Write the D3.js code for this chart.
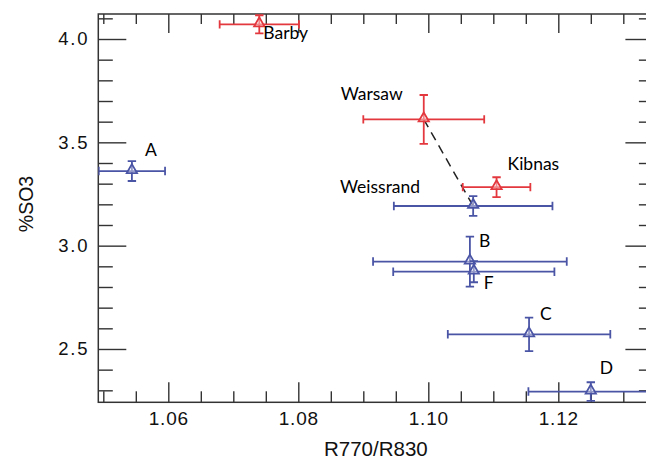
<!DOCTYPE html>
<html>
<head>
<meta charset="utf-8">
<script src="https://cdn.jsdelivr.net/npm/d3@7"></script>
<style>
  html, body { margin: 0; padding: 0; background: #fff; }
  svg { display: block; }
  .tick text { font-family: "Liberation Sans", Arial, sans-serif; fill: #111; }
  .lbl { font-family: Lato, "Open Sans", sans-serif; font-size: 17.5px; fill: #000; }
</style>
</head>
<body>
<svg id="chart" width="646" height="459"></svg>
<script>
// values
const sites   = ["Barby", "Warsaw", "Kibnas", "Weissrand", "A", "B", "F", "C", "D"]
const groups  = ["ref", "ref", "ref", "sample", "sample", "sample", "sample", "sample", "sample"]
const ratio    = [1.0740, 1.0993, 1.1105, 1.1069, 1.0544, 1.1064, 1.1070, 1.1155, 1.1250]
const ratioErr = [0.0061, 0.0093, 0.0052, 0.0122, 0.0051, 0.0149, 0.0124, 0.0125, 0.0096]
const so3      = [4.071, 3.611, 3.283, 3.192, 3.361, 2.923, 2.874, 2.571, 2.294]
const so3Err   = [0.044, 0.118, 0.048, 0.048, 0.048, 0.121, 0.051, 0.081, 0.045]
const links = [["Warsaw", "Weissrand"]]
const xMajor = [1.06, 1.08, 1.10, 1.12]
const yMajor = [2.5, 3.0, 3.5, 4.0]

// label placement (px from point, text anchor)
const labelPos = {
  Barby: [4, 15, "start"], Warsaw: [-21, -19, "end"], Kibnas: [11, -17, "start"],
  Weissrand: [-53, -13, "end"], A: [13, -15, "start"], B: [9, -15, "start"],
  F: [10, 17, "start"], C: [11, -14, "start"], D: [9, -18, "start"]
}

const data = sites.map((s, i) => ({
  site: s, group: groups[i], x: ratio[i], xe: ratioErr[i], y: so3[i], ye: so3Err[i]
}))

const L = 98.3, T = 14, R = 653.4, B = 402.3
const svg = d3.select('#chart')

const x = d3.scaleLinear().domain([1.04923, 1.13463]).range([L, R])
const y = d3.scaleLinear().domain([2.242, 4.121]).range([B, T])
const color = d3.scaleOrdinal().domain(["ref", "sample"]).range(["#e4383f", "#4b55a6"])

const xMinor = d3.range(1.05, 1.1346, 0.005).filter(v => !xMajor.some(m => Math.abs(m - v) < 1e-6))
const yMinor = d3.range(2.3, 4.12, 0.1).filter(v => !yMajor.some(m => Math.abs(m - v) < 1e-6))

const axisStyle = g => {
  g.select('.domain').remove()
  g.selectAll('line').attr('stroke', '#333').attr('stroke-width', 1.4)
}

// bottom
svg.append('g').attr('transform', `translate(0,${B})`)
  .call(d3.axisBottom(x).tickValues(xMajor).tickSize(-20).tickPadding(9).tickFormat(d3.format('.2f')))
  .call(axisStyle)
  .selectAll('text').style('font-size', '19px').style('letter-spacing', '0.8px')
svg.append('g').attr('transform', `translate(0,${B})`)
  .call(d3.axisBottom(x).tickValues(xMinor).tickSize(-11).tickFormat(''))
  .call(axisStyle)
// top
svg.append('g').attr('transform', `translate(0,${T})`)
  .call(d3.axisTop(x).tickValues(xMajor).tickSize(-19).tickFormat(''))
  .call(axisStyle)
svg.append('g').attr('transform', `translate(0,${T})`)
  .call(d3.axisTop(x).tickValues(xMinor).tickSize(-10).tickFormat(''))
  .call(axisStyle)
// left
svg.append('g').attr('transform', `translate(${L},0)`)
  .call(d3.axisLeft(y).tickValues(yMajor).tickSize(-28).tickPadding(9).tickFormat(d3.format('.1f')))
  .call(axisStyle)
  .selectAll('text').style('font-size', '18.5px').style('letter-spacing', '1.8px')
svg.append('g').attr('transform', `translate(${L},0)`)
  .call(d3.axisLeft(y).tickValues(yMinor).tickSize(-14.5).tickFormat(''))
  .call(axisStyle)
// right
svg.append('g').attr('transform', `translate(${R},0)`)
  .call(d3.axisRight(y).tickValues(yMajor).tickSize(-28).tickFormat(''))
  .call(axisStyle)
svg.append('g').attr('transform', `translate(${R},0)`)
  .call(d3.axisRight(y).tickValues(yMinor).tickSize(-14.5).tickFormat(''))
  .call(axisStyle)

svg.append('rect')
  .attr('x', L).attr('y', T).attr('width', R - L).attr('height', B - T)
  .attr('fill', 'none').attr('stroke', '#333').attr('stroke-width', 1.5)

// axis titles
svg.append('text')
  .attr('x', (L + R) / 2).attr('y', 456).attr('text-anchor', 'middle')
  .style('font-family', '"Liberation Sans", Arial, sans-serif').style('font-size', '20.5px').style('fill', '#111')
  .text('R770/R830')
svg.append('text')
  .attr('transform', 'translate(33,204) rotate(-90)').attr('text-anchor', 'middle')
  .style('font-family', '"Liberation Sans", Arial, sans-serif').style('font-size', '19.5px').style('fill', '#111')
  .text('%SO3')

svg.append('clipPath').attr('id', 'plotclip')
  .append('rect').attr('x', L).attr('y', T).attr('width', R - L).attr('height', B - T)

const plot = svg.append('g').attr('clip-path', 'url(#plotclip)')

// dashed link
const byName = new Map(data.map(d => [d.site, d]))
plot.selectAll('.link').data(links).enter().append('line')
  .attr('x1', d => x(byName.get(d[0]).x)).attr('y1', d => y(byName.get(d[0]).y))
  .attr('x2', d => x(byName.get(d[1]).x)).attr('y2', d => y(byName.get(d[1]).y))
  .attr('stroke', '#222').attr('stroke-width', 1.5).attr('stroke-dasharray', '9,6')

const pts = plot.selectAll('.pt').data(data).enter().append('g')
  .attr('stroke', d => color(d.group)).attr('stroke-width', 1.8).attr('fill', 'none')

const cap = 4.2
pts.append('path').attr('d', d => {
  const x0 = x(d.x - d.xe), x1 = x(d.x + d.xe), cx = x(d.x), cy = y(d.y)
  const y0 = y(d.y + d.ye), y1 = y(d.y - d.ye)
  return `M${x0},${cy}H${x1}M${x0},${cy - cap}V${cy + cap}M${x1},${cy - cap}V${cy + cap}` +
    `M${cx},${y0}V${y1}M${cx - cap},${y0}H${cx + cap}M${cx - cap},${y1}H${cx + cap}`
})
pts.append('path')
  .attr('d', d3.symbol(d3.symbolTriangle, 46))
  .attr('transform', d => `translate(${x(d.x)},${y(d.y) - 1})`)
  .attr('fill', '#fff').attr('fill-opacity', 0.4)

svg.selectAll('.lbl').data(data).enter().append('text')
  .attr('class', 'lbl')
  .attr('x', d => x(d.x) + labelPos[d.site][0])
  .attr('y', d => y(d.y) + labelPos[d.site][1])
  .attr('text-anchor', d => labelPos[d.site][2])
  .text(d => d.site)
</script>
</body>
</html>
